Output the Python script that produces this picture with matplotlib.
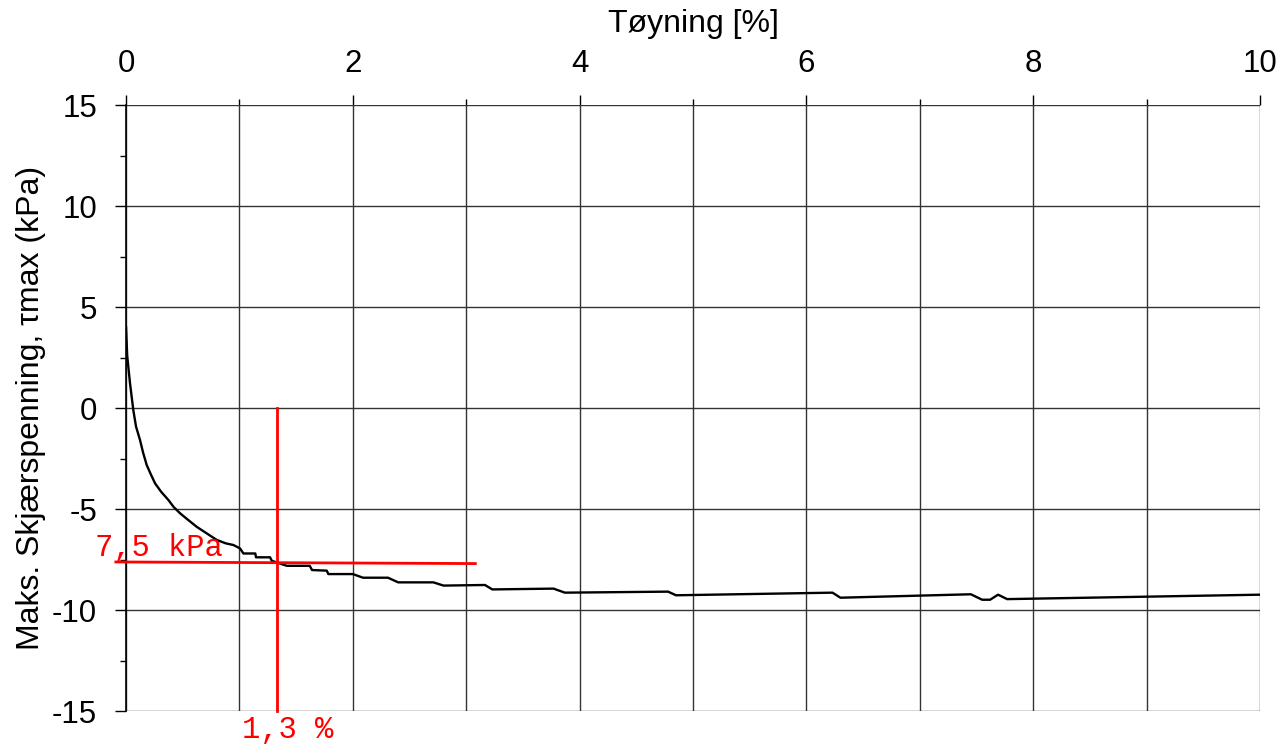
import numpy as np
import matplotlib
matplotlib.use('Agg')
import matplotlib.pyplot as plt
from matplotlib.ticker import MultipleLocator

plt.rcParams['font.family'] = ['Liberation Sans', 'DejaVu Sans']
plt.rcParams['axes.unicode_minus'] = False

# strain [%] and max shear stress [kPa]
strain = [0.0, 0.01, 0.035, 0.064, 0.088, 0.123, 0.15, 0.182, 0.22, 0.256, 0.31,
          0.373, 0.42, 0.476, 0.55, 0.623, 0.71, 0.80, 0.88, 0.946, 1.005, 1.035,
          1.14, 1.146, 1.27, 1.285, 1.417, 1.62, 1.64, 1.77, 1.784, 2.0, 2.09,
          2.31, 2.40, 2.71, 2.80, 3.165, 3.23, 3.77, 3.87, 4.78, 4.85, 6.23,
          6.30, 7.45, 7.55, 7.62, 7.69, 7.77, 10.0]
tau = [4.0, 2.6, 1.22, -0.1, -0.92, -1.58, -2.2, -2.82, -3.3, -3.73, -4.15,
       -4.55, -4.9, -5.21, -5.55, -5.88, -6.2, -6.53, -6.7, -6.78, -6.95, -7.2,
       -7.2, -7.39, -7.39, -7.56, -7.81, -7.81, -8.02, -8.05, -8.22, -8.22, -8.4,
       -8.4, -8.63, -8.63, -8.79, -8.76, -8.98, -8.94, -9.14, -9.09, -9.27, -9.14,
       -9.39, -9.22, -9.49, -9.49, -9.24, -9.46, -9.24]

# marked failure point
strain_mark = 1.33
tau_mark = -7.65

fig = plt.figure(figsize=(12.81, 7.45), dpi=100)
ax = fig.add_axes([0.0984, 0.0456, 0.8852, 0.8134])

ax.plot(strain, tau, color='black', lw=1.7, zorder=3)

# red guide lines
ax.plot([strain_mark, strain_mark], [0, -15], color='red', lw=2, zorder=4, clip_on=False)
ax.plot([-0.09, 3.08], [-7.62, -7.7], color='red', lw=2, zorder=4, clip_on=False)
ax.text(-0.27, -7.33, '7,5 kPa', color='red', fontsize=22,
        family='Liberation Mono', ha='left', va='baseline')
ax.text(1.02, -16.35, '1,3 %', color='red', fontsize=22,
        family='Liberation Mono', ha='left', va='baseline')

ax.set_xlim(0, 10)
ax.set_ylim(-15, 15)

ax.xaxis.tick_top()
ax.xaxis.set_label_position('top')
ax.xaxis.set_major_locator(MultipleLocator(2))
ax.xaxis.set_minor_locator(MultipleLocator(1))
ax.yaxis.set_major_locator(MultipleLocator(5))
ax.yaxis.set_minor_locator(MultipleLocator(2.5))

ax.grid(True, which='major', axis='y', color='#333333', lw=1)
ax.grid(True, which='both', axis='x', color='#333333', lw=1)

for side in ['top', 'bottom', 'right']:
    ax.spines[side].set_visible(False)
ax.spines['left'].set_color('black')
ax.spines['left'].set_linewidth(1.2)

ax.tick_params(axis='x', which='major', length=7, width=1, labelsize=22.5, pad=12)
ax.tick_params(axis='x', which='minor', length=4, width=1)
ax.tick_params(axis='y', which='major', length=8, width=1, labelsize=22.5, pad=13)
ax.tick_params(axis='y', which='minor', length=4, width=1)

ax.set_xlabel('Tøyning [%]', fontsize=23, labelpad=12)
ax.set_ylabel('Maks. Skjærspenning, τmax (kPa)', fontsize=23, labelpad=4)

fig.savefig('out.png', dpi=100)
